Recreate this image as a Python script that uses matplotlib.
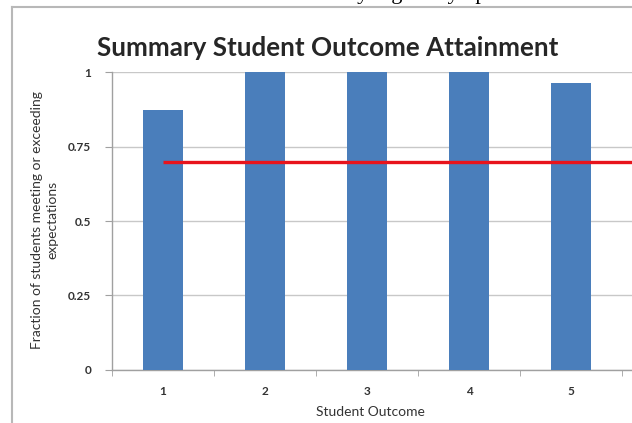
import matplotlib
matplotlib.use("Agg")
import matplotlib.pyplot as plt
from matplotlib.lines import Line2D

outcomes = ["1", "2", "3", "4", "5"]
attainment = [0.875, 1.0, 1.0, 1.0, 0.963]
target = 0.70
y_ticks = [0, 0.25, 0.5, 0.75, 1]
y_tick_labels = ["0", "0.25", "0.5", "0.75", "1"]

W, H = 632, 423
fig = plt.figure(figsize=(W / 100, H / 100), dpi=100)
fig.patch.set_facecolor("white")

def fx(px):
    return px / W

def fy(py):
    return 1 - py / H

# clipped text of the surrounding document at the top
fig.text(fx(330), fy(-1), "ably higher by up", fontsize=16, family="Liberation Serif",
         ha="left", va="baseline", color="black")

# chart frame
fig.add_artist(Line2D([fx(12), fx(12)], [fy(7.5), 0], transform=fig.transFigure,
                      color="#b8b8b8", lw=1.5))
fig.add_artist(Line2D([fx(12), 1], [fy(7.5), fy(7.5)], transform=fig.transFigure,
                      color="#b8b8b8", lw=1.5))

left, right, top, bottom = 112, 632, 72.5, 369.5
ax = fig.add_axes([fx(left), fy(bottom), fx(right - left), (bottom - top) / H])

x = list(range(len(outcomes)))
ax.bar(x, attainment, width=0.39, color="#4a7ebb", zorder=3)
ax.plot([0, 6], [target, target], color="#e8141c", lw=2.4, zorder=4, solid_capstyle="butt")

ax.set_xlim(-0.5, (632 - 163) / 102)
ax.set_ylim(0, 1)
ax.set_yticks(y_ticks)
ax.set_yticklabels(y_tick_labels)
ax.set_xticks(x)
ax.set_xticklabels(outcomes)
ax.set_xticks([i - 0.5 for i in range(6)], minor=True)
ax.tick_params(axis="x", which="major", length=0, pad=12, labelsize=8.5, labelcolor="#333333")
ax.tick_params(axis="x", which="minor", length=4, color="#a0a0a0", direction="out")
ax.tick_params(axis="y", which="major", length=5, color="#a0a0a0", pad=10,
               labelsize=8.5, labelcolor="#333333")
ax.grid(axis="y", color="#c8c8c8", lw=1, zorder=0)
for s in ["top", "right"]:
    ax.spines[s].set_visible(False)
for s in ["left", "bottom"]:
    ax.spines[s].set_color("#a0a0a0")
    ax.spines[s].set_linewidth(1)

for lab in ax.get_xticklabels() + ax.get_yticklabels():
    lab.set_family("Lato")
    lab.set_fontweight("bold")

fig.text(fx(328), fy(48), "Summary Student Outcome Attainment", ha="center", va="center",
         fontsize=18.7, fontweight="bold", family="Lato", color="#262626")
fig.text(fx(45), fy(220), "Fraction of students meeting or exceeding\nexpectations",
         rotation=90, ha="center", va="center", fontsize=10, family="Lato",
         color="#333333", linespacing=1.3)
fig.text(fx(370), fy(412), "Student Outcome", ha="center", va="center", fontsize=10,
         family="Lato", color="#333333")

fig.savefig("out.png", dpi=100)
